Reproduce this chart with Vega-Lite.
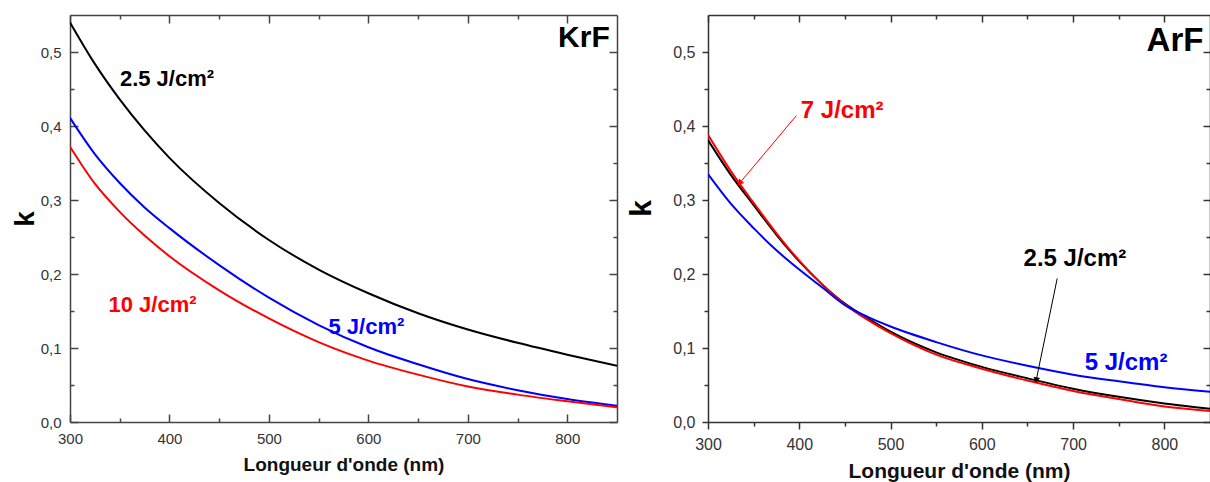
{
  "$schema": "https://vega.github.io/schema/vega-lite/v6.json",
  "autosize": {"type": "none"},
  "padding": {"left": 70, "top": 15, "right": 1140, "bottom": 467},
  "background": "white",
  "config": {"view": {"stroke": null}, "font": "Liberation Sans", "axis": {"labelFlush": false}},
  "spacing": 91,
  "bounds": "flush",
  "datasets": {
    "krf": [
      {"series": "2.5", "wl": 300, "k": 0.540}, {"series": "2.5", "wl": 325, "k": 0.484}, {"series": "2.5", "wl": 350, "k": 0.436}, {"series": "2.5", "wl": 375, "k": 0.394}, {"series": "2.5", "wl": 400, "k": 0.357}, {"series": "2.5", "wl": 450, "k": 0.296}, {"series": "2.5", "wl": 500, "k": 0.246}, {"series": "2.5", "wl": 550, "k": 0.206}, {"series": "2.5", "wl": 600, "k": 0.174}, {"series": "2.5", "wl": 650, "k": 0.147}, {"series": "2.5", "wl": 700, "k": 0.125}, {"series": "2.5", "wl": 750, "k": 0.107}, {"series": "2.5", "wl": 800, "k": 0.091}, {"series": "2.5", "wl": 850, "k": 0.076},
      {"series": "5", "wl": 300, "k": 0.411}, {"series": "5", "wl": 325, "k": 0.362}, {"series": "5", "wl": 350, "k": 0.323}, {"series": "5", "wl": 375, "k": 0.290}, {"series": "5", "wl": 400, "k": 0.262}, {"series": "5", "wl": 450, "k": 0.212}, {"series": "5", "wl": 500, "k": 0.168}, {"series": "5", "wl": 550, "k": 0.131}, {"series": "5", "wl": 600, "k": 0.101}, {"series": "5", "wl": 650, "k": 0.078}, {"series": "5", "wl": 700, "k": 0.058}, {"series": "5", "wl": 750, "k": 0.043}, {"series": "5", "wl": 800, "k": 0.031}, {"series": "5", "wl": 850, "k": 0.022},
      {"series": "10", "wl": 300, "k": 0.372}, {"series": "10", "wl": 325, "k": 0.322}, {"series": "10", "wl": 350, "k": 0.284}, {"series": "10", "wl": 375, "k": 0.252}, {"series": "10", "wl": 400, "k": 0.224}, {"series": "10", "wl": 450, "k": 0.178}, {"series": "10", "wl": 500, "k": 0.140}, {"series": "10", "wl": 550, "k": 0.108}, {"series": "10", "wl": 600, "k": 0.083}, {"series": "10", "wl": 650, "k": 0.064}, {"series": "10", "wl": 700, "k": 0.048}, {"series": "10", "wl": 750, "k": 0.037}, {"series": "10", "wl": 800, "k": 0.028}, {"series": "10", "wl": 850, "k": 0.020}
    ],
    "krfLabels": [
      {"series": "2.5", "label": "2.5 J/cm²", "wl": 397.5, "k": 0.454},
      {"series": "10", "label": "10 J/cm²", "wl": 383, "k": 0.148},
      {"series": "5", "label": "5 J/cm²", "wl": 598, "k": 0.119}
    ],
    "krfTitle": [{"label": "KrF", "wl": 842.7, "k": 0.507}],
    "arf": [
      {"series": "2.5", "wl": 300, "k": 0.381}, {"series": "2.5", "wl": 325, "k": 0.334}, {"series": "2.5", "wl": 350, "k": 0.293}, {"series": "2.5", "wl": 375, "k": 0.253}, {"series": "2.5", "wl": 400, "k": 0.217}, {"series": "2.5", "wl": 425, "k": 0.186}, {"series": "2.5", "wl": 450, "k": 0.160}, {"series": "2.5", "wl": 475, "k": 0.140}, {"series": "2.5", "wl": 500, "k": 0.122}, {"series": "2.5", "wl": 550, "k": 0.094}, {"series": "2.5", "wl": 600, "k": 0.0745}, {"series": "2.5", "wl": 650, "k": 0.059}, {"series": "2.5", "wl": 700, "k": 0.045}, {"series": "2.5", "wl": 750, "k": 0.034}, {"series": "2.5", "wl": 800, "k": 0.025}, {"series": "2.5", "wl": 850, "k": 0.018},
      {"series": "7", "wl": 300, "k": 0.388}, {"series": "7", "wl": 325, "k": 0.339}, {"series": "7", "wl": 350, "k": 0.296}, {"series": "7", "wl": 375, "k": 0.255}, {"series": "7", "wl": 400, "k": 0.218}, {"series": "7", "wl": 425, "k": 0.186}, {"series": "7", "wl": 450, "k": 0.159}, {"series": "7", "wl": 475, "k": 0.138}, {"series": "7", "wl": 500, "k": 0.120}, {"series": "7", "wl": 550, "k": 0.091}, {"series": "7", "wl": 600, "k": 0.072}, {"series": "7", "wl": 650, "k": 0.056}, {"series": "7", "wl": 700, "k": 0.042}, {"series": "7", "wl": 750, "k": 0.031}, {"series": "7", "wl": 800, "k": 0.021}, {"series": "7", "wl": 850, "k": 0.015},
      {"series": "5", "wl": 300, "k": 0.335}, {"series": "5", "wl": 325, "k": 0.295}, {"series": "5", "wl": 350, "k": 0.262}, {"series": "5", "wl": 375, "k": 0.232}, {"series": "5", "wl": 400, "k": 0.206}, {"series": "5", "wl": 425, "k": 0.182}, {"series": "5", "wl": 450, "k": 0.158}, {"series": "5", "wl": 475, "k": 0.142}, {"series": "5", "wl": 500, "k": 0.129}, {"series": "5", "wl": 550, "k": 0.108}, {"series": "5", "wl": 600, "k": 0.090}, {"series": "5", "wl": 650, "k": 0.076}, {"series": "5", "wl": 700, "k": 0.064}, {"series": "5", "wl": 750, "k": 0.055}, {"series": "5", "wl": 800, "k": 0.047}, {"series": "5", "wl": 850, "k": 0.041}
    ],
    "arfLabels": [
      {"series": "7", "label": "7 J/cm²", "wl": 447, "k": 0.411},
      {"series": "2.5", "label": "2.5 J/cm²", "wl": 702, "k": 0.211},
      {"series": "5", "label": "5 J/cm²", "wl": 758, "k": 0.070}
    ],
    "arfTitle": [{"label": "ArF", "wl": 780.5, "k": 0.502}],
    "arrows": [
      {"series": "7", "wl": 396.8, "k": 0.414, "wl2": 334.8, "k2": 0.323},
      {"series": "2.5", "wl": 682.6, "k": 0.194, "wl2": 659.6, "k2": 0.0565}
    ]
  },
  "hconcat": [
    {
      "width": 547,
      "height": 407,
      "layer": [
        {
          "data": {"name": "krf"},
          "mark": {"type": "line", "strokeWidth": 2, "interpolate": "monotone", "clip": true},
          "encoding": {
            "x": {"field": "wl", "type": "quantitative", "scale": {"domain": [300, 850], "nice": false, "zero": false},
              "axis": {"orient": "bottom", "values": [300, 400, 500, 600, 700, 800], "tickSize": -8, "tickWidth": 1.5, "tickColor": "#444", "domainColor": "#444", "domainWidth": 1.5, "labelPadding": 17.5, "labelFontSize": 15, "labelColor": "#333", "grid": false, "title": "Longueur d'onde (nm)", "titleFontSize": 19, "titleFontWeight": "bold", "titleColor": "#111", "titlePadding": 9}},
            "y": {"field": "k", "type": "quantitative", "scale": {"domain": [0, 0.55], "nice": false},
              "axis": {"orient": "left", "values": [0, 0.1, 0.2, 0.3, 0.4, 0.5], "labelExpr": "replace(format(datum.value, '.1f'), '.', ',')", "tickSize": -8, "tickWidth": 1.5, "tickColor": "#444", "domainColor": "#444", "domainWidth": 1.5, "labelPadding": 17, "labelFontSize": 15, "labelColor": "#333", "grid": false, "title": "k", "titleFontSize": 28, "titleFontWeight": "bold", "titleColor": "#000", "titlePadding": 1}},
            "color": {"field": "series", "type": "nominal", "scale": {"domain": ["2.5", "5", "7", "10"], "range": ["#000000", "#0000ff", "#ff0000", "#ff0000"]}, "legend": null}
          }
        },
        {
          "data": {"name": "krfLabels"},
          "mark": {"type": "text", "fontSize": 22, "fontWeight": "bold", "align": "center", "baseline": "alphabetic"},
          "encoding": {
            "x": {"field": "wl", "type": "quantitative", "axis": {"orient": "bottom", "values": [350, 450, 550, 650, 750], "labels": false, "domain": false, "tickSize": -4, "tickWidth": 1.5, "tickColor": "#444", "grid": false, "title": null}},
            "y": {"field": "k", "type": "quantitative", "axis": {"orient": "left", "values": [0.05, 0.15, 0.25, 0.35, 0.45], "labels": false, "domain": false, "tickSize": -4, "tickWidth": 1.5, "tickColor": "#444", "grid": false, "title": null}},
            "text": {"field": "label"},
            "color": {"field": "series", "type": "nominal", "legend": null}
          }
        },
        {
          "data": {"name": "krfTitle"},
          "mark": {"type": "text", "fontSize": 30, "fontWeight": "bold", "align": "right", "baseline": "alphabetic", "color": "#000"},
          "encoding": {
            "x": {"field": "wl", "type": "quantitative", "axis": {"orient": "top", "values": [300, 400, 500, 600, 700, 800], "labels": false, "tickSize": -8, "tickWidth": 1.5, "tickColor": "#444", "domainColor": "#444", "domainWidth": 1.5, "grid": false, "title": null}},
            "y": {"field": "k", "type": "quantitative", "axis": {"orient": "right", "values": [0, 0.1, 0.2, 0.3, 0.4, 0.5], "labels": false, "tickSize": -8, "tickWidth": 1.5, "tickColor": "#444", "domainColor": "#444", "domainWidth": 1.5, "grid": false, "title": null}},
            "text": {"field": "label"}
          }
        },
        {
          "data": {"name": "krfTitle"},
          "mark": {"type": "point", "opacity": 0},
          "encoding": {
            "x": {"field": "wl", "type": "quantitative", "axis": {"orient": "top", "values": [350, 450, 550, 650, 750], "labels": false, "domain": false, "tickSize": -4, "tickWidth": 1.5, "tickColor": "#444", "grid": false, "title": null}},
            "y": {"field": "k", "type": "quantitative", "axis": {"orient": "right", "values": [0.05, 0.15, 0.25, 0.35, 0.45], "labels": false, "domain": false, "tickSize": -4, "tickWidth": 1.5, "tickColor": "#444", "grid": false, "title": null}}
          }
        }
      ],
      "resolve": {"axis": {"x": "independent", "y": "independent"}}
    },
    {
      "width": 502,
      "height": 407,
      "layer": [
        {
          "data": {"name": "arf"},
          "mark": {"type": "line", "strokeWidth": 2, "interpolate": "monotone", "clip": true},
          "encoding": {
            "x": {"field": "wl", "type": "quantitative", "scale": {"domain": [300, 850], "nice": false, "zero": false},
              "axis": {"orient": "bottom", "values": [300, 400, 500, 600, 700, 800], "tickSize": 7, "tickWidth": 1.5, "tickColor": "#333", "domainColor": "#333", "domainWidth": 1.5, "labelPadding": 7, "labelFontSize": 16, "labelColor": "#333", "grid": false, "title": "Longueur d'onde (nm)", "titleFontSize": 21, "titleFontWeight": "bold", "titleColor": "#111", "titlePadding": 8}},
            "y": {"field": "k", "type": "quantitative", "scale": {"domain": [0, 0.55], "nice": false},
              "axis": {"orient": "left", "values": [0, 0.1, 0.2, 0.3, 0.4, 0.5], "labelExpr": "replace(format(datum.value, '.1f'), '.', ',')", "tickSize": 6, "tickWidth": 1.5, "tickColor": "#333", "domainColor": "#333", "domainWidth": 1.5, "labelPadding": 7, "labelFontSize": 16, "labelColor": "#333", "grid": false, "title": "k", "titleFontSize": 30, "titleFontWeight": "bold", "titleColor": "#000", "titlePadding": 16, "titleY": 193}},
            "color": {"field": "series", "type": "nominal", "scale": {"domain": ["2.5", "5", "7", "10"], "range": ["#000000", "#0000ff", "#ff0000", "#ff0000"]}, "legend": null}
          }
        },
        {
          "data": {"name": "arfLabels"},
          "mark": {"type": "text", "fontSize": 24, "fontWeight": "bold", "align": "center", "baseline": "alphabetic"},
          "encoding": {
            "x": {"field": "wl", "type": "quantitative", "axis": {"orient": "bottom", "values": [350, 450, 550, 650, 750], "labels": false, "domain": false, "tickSize": 4, "tickWidth": 1.5, "tickColor": "#333", "grid": false, "title": null}},
            "y": {"field": "k", "type": "quantitative", "axis": {"orient": "left", "values": [0.05, 0.15, 0.25, 0.35, 0.45], "labels": false, "domain": false, "tickSize": 4, "tickWidth": 1.5, "tickColor": "#333", "grid": false, "title": null}},
            "text": {"field": "label"},
            "color": {"field": "series", "type": "nominal", "legend": null}
          }
        },
        {
          "data": {"name": "arfTitle"},
          "mark": {"type": "text", "fontSize": 33, "fontWeight": "bold", "align": "left", "baseline": "alphabetic", "color": "#000"},
          "encoding": {
            "x": {"field": "wl", "type": "quantitative", "axis": {"orient": "top", "values": [300, 400, 500, 600, 700, 800], "labels": false, "tickSize": -7, "tickWidth": 1.5, "tickColor": "#333", "domainColor": "#333", "domainWidth": 1.5, "grid": false, "title": null}},
            "y": {"field": "k", "type": "quantitative", "axis": {"orient": "right", "values": [0, 0.1, 0.2, 0.3, 0.4, 0.5], "labels": false, "tickSize": -7, "tickWidth": 1.5, "tickColor": "#333", "domainColor": "#333", "domainWidth": 1.5, "grid": false, "title": null}},
            "text": {"field": "label"}
          }
        },
        {
          "data": {"name": "arrows"},
          "mark": {"type": "rule", "strokeWidth": 1},
          "encoding": {
            "x": {"field": "wl", "type": "quantitative", "axis": {"orient": "top", "values": [350, 450, 550, 650, 750], "labels": false, "domain": false, "tickSize": -4, "tickWidth": 1.5, "tickColor": "#333", "grid": false, "title": null}},
            "y": {"field": "k", "type": "quantitative", "axis": {"orient": "right", "values": [0.05, 0.15, 0.25, 0.35, 0.45], "labels": false, "domain": false, "tickSize": -4, "tickWidth": 1.5, "tickColor": "#333", "grid": false, "title": null}},
            "x2": {"field": "wl2"},
            "y2": {"field": "k2"},
            "color": {"field": "series", "type": "nominal", "legend": null}
          }
        },
        {
          "data": {"name": "arrows"},
          "transform": [{"filter": "datum.series === '7'"}],
          "mark": {"type": "point", "shape": "triangle-up", "filled": true, "size": 45, "angle": 220, "opacity": 1},
          "encoding": {
            "x": {"field": "wl2", "type": "quantitative", "axis": null},
            "y": {"field": "k2", "type": "quantitative", "axis": null},
            "color": {"field": "series", "type": "nominal", "legend": null}
          }
        },
        {
          "data": {"name": "arrows"},
          "transform": [{"filter": "datum.series === '2.5'"}],
          "mark": {"type": "point", "shape": "triangle-up", "filled": true, "size": 45, "angle": 192, "opacity": 1},
          "encoding": {
            "x": {"field": "wl2", "type": "quantitative", "axis": null},
            "y": {"field": "k2", "type": "quantitative", "axis": null},
            "color": {"field": "series", "type": "nominal", "legend": null}
          }
        }
      ],
      "resolve": {"axis": {"x": "independent", "y": "independent"}}
    }
  ]
}
